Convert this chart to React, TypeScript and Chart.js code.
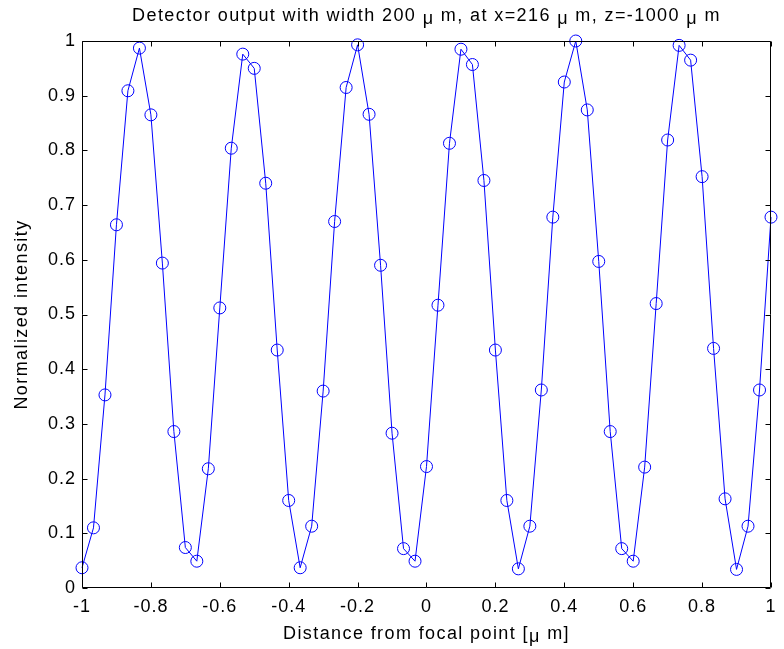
import React, { useEffect, useRef } from "react";
import { Chart, registerables } from "chart.js";

Chart.register(...registerables);

const xValues: number[] = [
  -1, -0.9667, -0.9333, -0.9, -0.8667, -0.8333, -0.8, -0.7667, -0.7333, -0.7,
  -0.6667, -0.6333, -0.6, -0.5667, -0.5333, -0.5, -0.4667, -0.4333, -0.4, -0.3667,
  -0.3333, -0.3, -0.2667, -0.2333, -0.2, -0.1667, -0.1333, -0.1, -0.0667, -0.0333,
  0, 0.0333, 0.0667, 0.1, 0.1333, 0.1667, 0.2, 0.2333, 0.2667, 0.3,
  0.3333, 0.3667, 0.4, 0.4333, 0.4667, 0.5, 0.5333, 0.5667, 0.6, 0.6333,
  0.6667, 0.7, 0.7333, 0.7667, 0.8, 0.8333, 0.8667, 0.9, 0.9333, 0.9667, 1,
];

const intensity: number[] = [
  0.037, 0.110, 0.353, 0.664, 0.909, 0.987, 0.865, 0.594, 0.286, 0.074,
  0.049, 0.218, 0.512, 0.804, 0.976, 0.950, 0.740, 0.435, 0.160, 0.037,
  0.113, 0.360, 0.670, 0.915, 0.993, 0.866, 0.590, 0.283, 0.072, 0.049,
  0.222, 0.517, 0.813, 0.985, 0.957, 0.745, 0.435, 0.160, 0.035, 0.113,
  0.362, 0.678, 0.925, 1.000, 0.874, 0.597, 0.286, 0.072, 0.049, 0.221,
  0.520, 0.819, 0.992, 0.965, 0.752, 0.438, 0.163, 0.034, 0.113, 0.362,
  0.678,
];

const xTickValues: number[] = [-1, -0.8, -0.6, -0.4, -0.2, 0, 0.2, 0.4, 0.6, 0.8, 1];
const yTickValues: number[] = [0, 0.1, 0.2, 0.3, 0.4, 0.5, 0.6, 0.7, 0.8, 0.9, 1];

const titleText = "Detector output with width 200 μ m, at x=216 μ m, z=-1000 μ m";
const xAxisTitle = "Distance from focal point [μ m]";
const yAxisTitle = "Normalized intensity";

const FONT = '"Liberation Sans", Arial, sans-serif';
const FONT_SIZE = 18;

function drawMixed(ctx: CanvasRenderingContext2D, text: string, cx: number, cy: number) {
  // draw text centered at cx, with the μ glyph lowered like the original symbol font
  const parts = text.split("μ");
  const widths = parts.map((p) => ctx.measureText(p).width);
  const muW = ctx.measureText("μ").width;
  const total = widths.reduce((a, b) => a + b, 0) + muW * (parts.length - 1);
  let x = cx - total / 2;
  ctx.textAlign = "left";
  ctx.textBaseline = "middle";
  parts.forEach((p, i) => {
    ctx.fillText(p, x, cy);
    x += widths[i];
    if (i < parts.length - 1) {
      ctx.fillText("μ", x, cy + 3);
      x += muW;
    }
  });
}

const framePlugin = {
  id: "matlabFrame",
  beforeDraw(chart: any) {
    (chart.ctx as any).letterSpacing = "1px";
  },
  afterDraw(chart: any) {
    const ctx: CanvasRenderingContext2D = chart.ctx;
    const { left, right, top, bottom } = chart.chartArea;
    const xs = chart.scales.x;
    const ys = chart.scales.y;
    ctx.save();
    ctx.strokeStyle = "#000";
    ctx.lineWidth = 1;
    const L = Math.round(left) + 0.5;
    const R = Math.round(right) - 0.5;
    const T = Math.round(top) + 0.5;
    const B = Math.round(bottom) - 0.5;
    ctx.beginPath();
    ctx.rect(L, T, R - L, B - T);
    ctx.stroke();
    const tl = 5;
    ctx.beginPath();
    xTickValues.forEach((v) => {
      const px = Math.round(xs.getPixelForValue(v)) + 0.5;
      ctx.moveTo(px, B);
      ctx.lineTo(px, B - tl);
      ctx.moveTo(px, T);
      ctx.lineTo(px, T + tl);
    });
    yTickValues.forEach((v) => {
      const py = Math.round(ys.getPixelForValue(v)) + 0.5;
      ctx.moveTo(L, py);
      ctx.lineTo(L + tl, py);
      ctx.moveTo(R, py);
      ctx.lineTo(R - tl, py);
    });
    ctx.stroke();

    ctx.fillStyle = "#000";
    ctx.font = `${FONT_SIZE}px ${FONT}`;
    (ctx as any).letterSpacing = "1.4px";
    drawMixed(ctx, titleText, (left + right) / 2, 16);
    drawMixed(ctx, xAxisTitle, (left + right) / 2, 634);
    ctx.translate(22, (top + bottom) / 2);
    ctx.rotate(-Math.PI / 2);
    drawMixed(ctx, yAxisTitle, 0, 0);
    ctx.restore();
  },
};

export default function App() {
  const ref = useRef<HTMLCanvasElement | null>(null);

  useEffect(() => {
    if (!ref.current) return;
    const points = xValues.map((x, i) => ({ x, y: intensity[i] }));
    const chart = new Chart(ref.current, {
      type: "line",
      data: {
        datasets: [
          {
            data: points,
            borderColor: "#0000ff",
            borderWidth: 1,
            pointRadius: 6,
            pointHoverRadius: 6,
            pointStyle: "circle",
            pointBackgroundColor: "rgba(0,0,0,0)",
            pointBorderColor: "#0000ff",
            pointBorderWidth: 1,
            tension: 0,
            fill: false,
            clip: false as any,
          },
        ],
      },
      options: {
        animation: false,
        responsive: true,
        maintainAspectRatio: false,
        events: [],
        layout: { padding: { left: 0, right: 7, top: 41, bottom: 0 } },
        plugins: {
          legend: { display: false },
          tooltip: { enabled: false },
          title: { display: false },
        },
        scales: {
          x: {
            type: "linear",
            min: -1,
            max: 1,
            afterBuildTicks: (scale: any) => {
              scale.ticks = xTickValues.map((v) => ({ value: v }));
            },
            afterFit: (scale: any) => {
              scale.height = 61;
            },
            grid: { display: false, drawTicks: false },
            border: { display: false },
            ticks: {
              padding: 8,
              color: "#000",
              font: { family: FONT, size: FONT_SIZE },
              maxRotation: 0,
              autoSkip: false,
              callback: (v: any) => String(Number(v)),
            },
          },
          y: {
            type: "linear",
            min: 0,
            max: 1,
            afterBuildTicks: (scale: any) => {
              scale.ticks = yTickValues.map((v) => ({ value: v }));
            },
            afterFit: (scale: any) => {
              scale.width = 82;
            },
            grid: { display: false, drawTicks: false },
            border: { display: false },
            ticks: {
              padding: 6,
              color: "#000",
              font: { family: FONT, size: FONT_SIZE },
              autoSkip: false,
              callback: (v: any) => String(Number(v)),
            },
          },
        },
      },
      plugins: [framePlugin],
    });
    return () => chart.destroy();
  }, []);

  return (
    <div style={{ position: "fixed", left: 0, top: 0, width: 784, height: 649, background: "#fff" }}>
      <canvas ref={ref} />
    </div>
  );
}
